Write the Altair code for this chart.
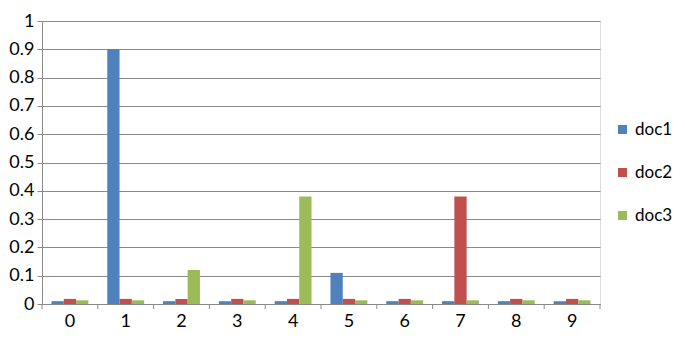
import altair as alt
import pandas as pd

categories = ["0", "1", "2", "3", "4", "5", "6", "7", "8", "9"]
series = ["doc1", "doc2", "doc3"]
doc1 = [0.01, 0.9, 0.01, 0.01, 0.01, 0.11, 0.01, 0.01, 0.01, 0.01]
doc2 = [0.018, 0.018, 0.018, 0.018, 0.018, 0.018, 0.018, 0.38, 0.018, 0.018]
doc3 = [0.013, 0.013, 0.12, 0.013, 0.38, 0.013, 0.013, 0.013, 0.013, 0.013]
y_ticks = [0, 0.1, 0.2, 0.3, 0.4, 0.5, 0.6, 0.7, 0.8, 0.9, 1]
colors = ["#4F81BD", "#C0504D", "#9BBB59"]

rows = []
for name, vals in zip(series, [doc1, doc2, doc3]):
    for c, v in zip(categories, vals):
        rows.append({"cat": c, "series": name, "value": v})
df = pd.DataFrame(rows)

W, H = 558, 283
GRID = "#8A8A8A"
FONT = "Lato"
FS = 18

xscale = alt.Scale(domain=categories, paddingInner=0, paddingOuter=0)

bars = alt.Chart(df).mark_bar().encode(
    x=alt.X("cat:N", scale=xscale, sort=categories,
            axis=alt.Axis(title=None, labelAngle=0, ticks=False, domainColor=GRID,
                          labelFontSize=FS, labelPadding=8, labelColor="black",
                          labelFont=FONT)),
    xOffset=alt.XOffset("series:N", scale=alt.Scale(domain=series, paddingOuter=0.77, paddingInner=0)),
    y=alt.Y("value:Q", scale=alt.Scale(domain=[0, 1], nice=False),
            axis=alt.Axis(title=None, values=y_ticks, format="~g", grid=True,
                          gridColor=GRID, domainColor=GRID, tickColor=GRID,
                          tickSize=5, labelFontSize=FS, labelPadding=3,
                          labelColor="black", labelFont=FONT)),
    color=alt.Color("series:N", scale=alt.Scale(domain=series, range=colors),
                    legend=alt.Legend(title=None, orient="none", legendX=572, legendY=100,
                                      symbolType="square", symbolSize=81,
                                      symbolStrokeWidth=0, labelFontSize=17,
                                      labelFont=FONT, labelColor="black",
                                      rowPadding=25, labelOffset=4, padding=0)),
)

tick_df = pd.DataFrame({"cat": categories})
ticks = alt.Chart(tick_df).mark_rule(color=GRID).encode(
    x=alt.X("cat:N", scale=xscale, sort=categories, bandPosition=0),
    y=alt.value(H), y2=alt.value(H + 5),
)
end_tick = alt.Chart(pd.DataFrame({"cat": [categories[-1]]})).mark_rule(color=GRID).encode(
    x=alt.X("cat:N", scale=xscale, sort=categories, bandPosition=1),
    y=alt.value(H), y2=alt.value(H + 5),
)

chart = alt.layer(bars, ticks, end_tick).properties(
    width=W, height=H,
    autosize=alt.AutoSizeParams(type="none"),
    padding={"left": 34, "top": 13, "right": 77, "bottom": 26},
).configure_view(stroke=None).configure(background="white")

chart.save("out.html", embed_options={"renderer": "svg", "actions": False})
